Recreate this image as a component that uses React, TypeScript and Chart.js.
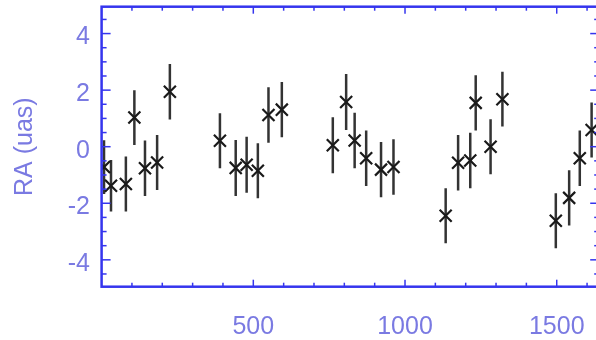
import { useEffect, useRef } from "react";
import { Chart, registerables } from "chart.js";

Chart.register(...registerables);

// Observation epochs (days) and RA offsets (micro-arcseconds) with 1-sigma errors
const epochs = [8, 31, 80, 108, 143, 183, 225, 390, 442, 478, 515, 550, 594, 762, 806, 834, 872, 921, 962, 1134, 1175, 1215, 1233, 1282, 1321, 1497, 1541, 1576, 1615];
const raOffsets = [-0.72, -1.38, -1.32, 1.03, -0.76, -0.56, 1.94, 0.21, -0.75, -0.64, -0.85, 1.12, 1.31, 0.05, 1.58, 0.22, -0.41, -0.81, -0.72, -2.44, -0.57, -0.49, 1.55, 0.0, 1.68, -2.62, -1.81, -0.41, 0.59];
const raErrors = [0.95, 0.91, 0.97, 0.97, 0.98, 0.97, 0.98, 0.97, 0.99, 0.99, 0.97, 0.98, 0.98, 0.99, 0.99, 0.98, 0.98, 0.98, 0.98, 0.97, 0.98, 0.98, 0.98, 0.97, 0.97, 0.97, 0.98, 0.98, 0.97];

const xTickValues = [500, 1000, 1500];
const yTickValues = [-4, -2, 0, 2, 4];
const yAxisTitle = "RA (uas)";

const AXIS_BLUE = "#3535ee";
const LABEL_BLUE = "#7a7ae2";
const FONT_FAMILY = "'Liberation Sans', Arial, Helvetica, sans-serif";

// vertical error bars drawn under the markers
const errorBarPlugin = {
  id: "errorBars",
  beforeDatasetsDraw(chart: any) {
    const { ctx, chartArea: a, scales } = chart;
    const x = scales.x;
    const y = scales.y;
    ctx.save();
    ctx.beginPath();
    ctx.rect(a.left, a.top, a.right - a.left, a.bottom - a.top);
    ctx.clip();
    ctx.strokeStyle = "#333333";
    ctx.lineWidth = 2.5;
    epochs.forEach((t, i) => {
      const px = x.getPixelForValue(t);
      const top = y.getPixelForValue(raOffsets[i] + raErrors[i]);
      const bot = y.getPixelForValue(raOffsets[i] - raErrors[i]);
      ctx.beginPath();
      ctx.moveTo(px, top);
      ctx.lineTo(px, bot);
      ctx.stroke();
    });
    ctx.restore();
  },
};

// box frame with inward-pointing major and minor ticks on all four sides
const framePlugin = {
  id: "frame",
  afterDatasetsDraw(chart: any) {
    const { ctx, chartArea: a, scales } = chart;
    const x = scales.x;
    const y = scales.y;
    ctx.save();
    ctx.strokeStyle = AXIS_BLUE;
    const seg = (x1: number, y1: number, x2: number, y2: number) => {
      ctx.beginPath();
      ctx.moveTo(x1, y1);
      ctx.lineTo(x2, y2);
      ctx.stroke();
    };
    ctx.lineWidth = 1.5;
    for (let v = 100; v < x.max; v += 100) {
      const px = x.getPixelForValue(v);
      const len = v % 500 === 0 ? 7 : 4;
      seg(px, a.bottom, px, a.bottom - len);
      seg(px, a.top, px, a.top + len);
    }
    for (let k = -9; k <= 9; k++) {
      const v = k * 0.5;
      const py = y.getPixelForValue(v);
      const len = k % 4 === 0 ? 9 : 5;
      seg(a.left, py, a.left + len, py);
      seg(a.right, py, a.right - len, py);
    }
    ctx.lineWidth = 2.5;
    ctx.strokeRect(a.left, a.top, a.right - a.left, a.bottom - a.top);
    ctx.restore();
  },
};

export default function App() {
  const canvasRef = useRef<HTMLCanvasElement | null>(null);

  useEffect(() => {
    document.body.style.margin = "0";
    const canvas = canvasRef.current;
    if (!canvas) return;
    const chart = new Chart(canvas, {
      type: "scatter",
      data: {
        datasets: [
          {
            data: epochs.map((t, i) => ({ x: t, y: raOffsets[i] })),
            pointStyle: "crossRot",
            pointRadius: 8.5,
            pointBorderWidth: 2.2,
            borderColor: "#1a1a1a",
            backgroundColor: "#1a1a1a",
          },
        ],
      },
      plugins: [errorBarPlugin, framePlugin],
      options: {
        animation: false,
        responsive: false,
        devicePixelRatio: 1,
        layout: { autoPadding: false, padding: { left: 0, right: 20.8, top: 6.7, bottom: 0 } },
        plugins: {
          legend: { display: false },
          tooltip: { enabled: false },
        },
        scales: {
          x: {
            type: "linear",
            min: 0,
            max: 1640,
            grid: { display: false, drawTicks: false },
            border: { display: false },
            afterBuildTicks: (scale: any) => {
              scale.ticks = xTickValues.map((v) => ({ value: v }));
            },
            afterFit: (scale: any) => {
              scale.height = 53.3;
              scale.paddingLeft = 0;
              scale.paddingRight = 0;
            },
            ticks: {
              padding: 25,
              maxRotation: 0,
              color: LABEL_BLUE,
              font: { family: FONT_FAMILY, size: 25 },
              callback: (v: any) => String(v),
            },
          },
          y: {
            type: "linear",
            min: -4.95,
            max: 4.95,
            grid: { display: false, drawTicks: false },
            border: { display: false },
            afterBuildTicks: (scale: any) => {
              scale.ticks = yTickValues.map((v) => ({ value: v }));
            },
            afterFit: (scale: any) => {
              scale.width = 101.6;
              scale.paddingTop = 0;
              scale.paddingBottom = 0;
            },
            ticks: {
              padding: 11.6,
              labelOffset: 4,
              color: LABEL_BLUE,
              font: { family: FONT_FAMILY, size: 25 },
              callback: (v: any) => String(v),
            },
            title: {
              display: true,
              text: yAxisTitle,
              color: LABEL_BLUE,
              font: { family: FONT_FAMILY, size: 25 },
              padding: { top: 10.5, bottom: 0 },
            },
          },
        },
      },
    } as any);
    return () => chart.destroy();
  }, []);

  return (
    <div style={{ position: "absolute", left: 0, top: 0, width: 596, height: 340, overflow: "hidden", background: "#ffffff" }}>
      <canvas ref={canvasRef} width={620} height={340} style={{ display: "block" }} />
    </div>
  );
}
